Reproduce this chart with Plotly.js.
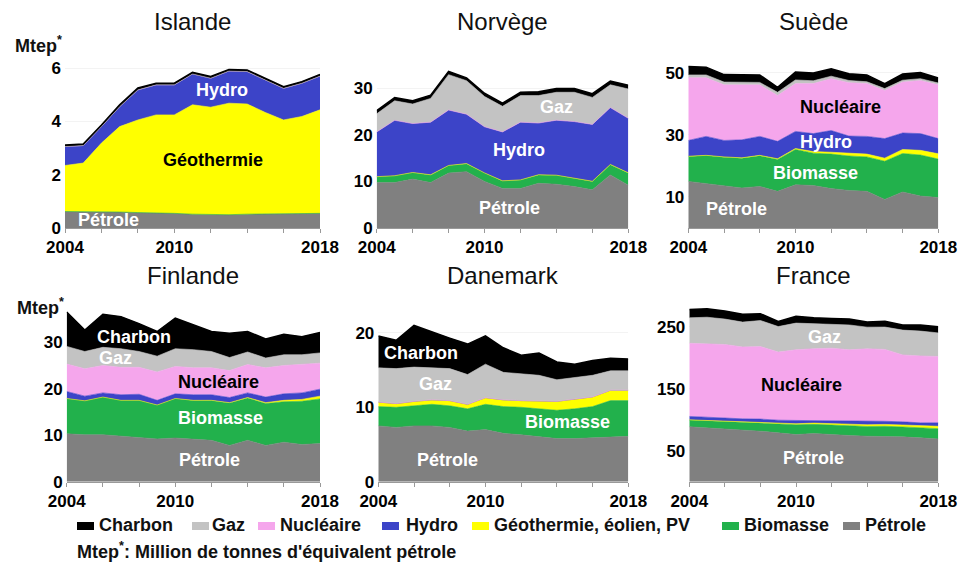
<!DOCTYPE html>
<html>
<head>
<meta charset="utf-8">
<script src="https://cdn.plot.ly/plotly-3.0.1.min.js"></script>
<style>
  html, body { margin: 0; padding: 0; background: #fff; }
  #chart { width: 964px; height: 567px; }
</style>
</head>
<body>
<div id="chart"></div>
<script>
// energy mix, Mtep, 2004-2018
const years = [2004, 2005, 2006, 2007, 2008, 2009, 2010, 2011, 2012, 2013, 2014, 2015, 2016, 2017, 2018];

// stacking order, bottom to top
const seriesKeys = ['petrole', 'biomasse', 'geo', 'hydro', 'nucleaire', 'gaz', 'charbon'];
const seriesNames = ['Pétrole', 'Biomasse', 'Géothermie, éolien, PV', 'Hydro', 'Nucléaire', 'Gaz', 'Charbon'];
const seriesColors = ['#808080', '#22b14c', '#ffff00', '#3c44c8', '#f5a6ec', '#c3c3c3', '#000000'];

const islande = {
  petrole:   [0.62, 0.62, 0.62, 0.60, 0.58, 0.57, 0.55, 0.52, 0.50, 0.50, 0.52, 0.53, 0.55, 0.55, 0.55],
  biomasse:  [0, 0, 0, 0, 0, 0, 0, 0, 0, 0, 0, 0, 0, 0, 0],
  geo:       [1.73, 1.82, 2.57, 3.21, 3.48, 3.68, 3.70, 4.11, 4.04, 4.19, 4.14, 3.81, 3.51, 3.64, 3.89],
  hydro:     [0.71, 0.66, 0.62, 0.75, 1.13, 1.13, 1.13, 1.16, 1.09, 1.21, 1.22, 1.22, 1.19, 1.25, 1.27],
  nucleaire: [0, 0, 0, 0, 0, 0, 0, 0, 0, 0, 0, 0, 0, 0, 0],
  gaz:       [0, 0, 0, 0, 0, 0, 0, 0, 0, 0, 0, 0, 0, 0, 0],
  charbon:   [0.06, 0.06, 0.06, 0.07, 0.07, 0.06, 0.06, 0.06, 0.06, 0.06, 0.06, 0.06, 0.06, 0.06, 0.06]
};

const norvege = {
  petrole:   [9.75, 9.75, 10.5, 9.75, 11.8, 12.1, 10.0, 8.5, 8.5, 9.6, 9.4, 8.9, 8.2, 11.4, 9.2],
  biomasse:  [1.25, 1.45, 1.4, 1.65, 1.6, 1.7, 1.8, 1.6, 1.8, 1.8, 1.9, 1.8, 1.8, 2.2, 2.6],
  geo:       [0.02, 0.02, 0.02, 0.02, 0.03, 0.03, 0.03, 0.03, 0.03, 0.03, 0.04, 0.04, 0.04, 0.05, 0.05],
  hydro:     [9.6, 11.9, 10.5, 11.3, 11.9, 10.6, 9.9, 10.5, 12.4, 11.1, 11.8, 12.1, 12.2, 12.2, 11.7],
  nucleaire: [0, 0, 0, 0, 0, 0, 0, 0, 0, 0, 0, 0, 0, 0, 0],
  gaz:       [3.9, 4.2, 4.2, 5.1, 7.6, 7.2, 6.5, 5.5, 5.7, 5.9, 6.0, 6.3, 5.8, 4.9, 6.3],
  charbon:   [0.7, 0.7, 0.7, 0.7, 0.7, 0.6, 0.7, 0.7, 0.7, 0.8, 0.8, 0.8, 0.8, 0.8, 0.8]
};

const suede = {
  petrole:   [15.0, 14.3, 13.5, 12.9, 13.4, 11.8, 13.9, 13.7, 12.7, 12.1, 11.8, 9.2, 11.6, 10.3, 9.8],
  biomasse:  [8.05, 9.05, 9.3, 9.6, 9.85, 10.3, 11.4, 10.4, 11.1, 11.1, 11.1, 12.3, 12.4, 13.2, 12.4],
  geo:       [0.05, 0.05, 0.1, 0.1, 0.15, 0.2, 0.3, 0.5, 0.6, 0.8, 0.9, 1.0, 1.3, 1.5, 1.7],
  hydro:     [5.1, 6.1, 5.3, 5.8, 6.1, 5.6, 5.5, 5.8, 7.0, 5.6, 5.7, 6.3, 5.3, 5.4, 4.9],
  nucleaire: [20.2, 18.9, 17.9, 17.7, 16.6, 14.8, 15.4, 16.1, 16.7, 17.2, 17.0, 15.5, 16.4, 17.1, 17.3],
  gaz:       [0.9, 0.9, 0.9, 0.8, 0.8, 1.0, 1.2, 0.9, 0.8, 0.7, 0.6, 0.6, 0.6, 0.6, 0.6],
  charbon:   [2.7, 2.5, 2.4, 2.4, 2.4, 1.6, 2.5, 2.5, 2.4, 2.2, 2.2, 1.6, 2.0, 2.0, 1.6]
};

const finlande = {
  petrole:   [10.3, 10.1, 10.1, 9.8, 9.6, 9.2, 9.4, 9.2, 8.9, 7.8, 8.9, 7.8, 8.5, 8.0, 8.2],
  biomasse:  [7.6, 7.3, 8.1, 7.7, 7.9, 7.3, 8.5, 8.25, 8.55, 9.1, 9.1, 9.0, 8.7, 9.3, 9.6],
  geo:       [0, 0, 0, 0, 0, 0, 0, 0.05, 0.05, 0.1, 0.1, 0.2, 0.3, 0.4, 0.6],
  hydro:     [1.5, 1.0, 0.9, 1.2, 1.3, 1.0, 1.0, 1.2, 1.2, 1.1, 1.0, 1.2, 1.4, 1.4, 1.5],
  nucleaire: [5.9, 5.9, 5.9, 5.9, 5.8, 6.1, 5.9, 5.8, 5.8, 5.8, 6.1, 6.3, 6.1, 6.2, 5.6],
  gaz:       [3.8, 3.7, 3.9, 4.0, 3.4, 3.4, 3.8, 3.9, 3.5, 2.8, 2.7, 2.1, 2.3, 2.0, 2.2],
  charbon:   [7.4, 4.6, 7.1, 6.9, 6.0, 5.3, 6.6, 5.3, 4.3, 5.2, 4.4, 4.1, 4.4, 3.9, 4.4]
};

const danemark = {
  petrole:   [7.5, 7.3, 7.5, 7.5, 7.3, 6.8, 7.0, 6.5, 6.3, 6.1, 5.8, 5.8, 5.9, 6.1, 6.1],
  biomasse:  [2.6, 2.7, 2.7, 2.9, 2.9, 3.0, 3.4, 3.6, 3.7, 3.7, 3.8, 4.0, 4.2, 4.8, 4.8],
  geo:       [0.6, 0.5, 0.6, 0.6, 0.7, 0.6, 0.9, 0.9, 0.9, 1.0, 1.2, 1.3, 1.3, 1.4, 1.4],
  hydro:     [0, 0, 0, 0, 0, 0, 0, 0, 0, 0, 0, 0, 0, 0, 0],
  nucleaire: [0, 0, 0, 0, 0, 0, 0, 0, 0, 0, 0, 0, 0, 0, 0],
  gaz:       [4.6, 4.7, 4.6, 4.3, 4.3, 4.0, 4.5, 3.7, 3.6, 3.5, 2.9, 2.9, 2.9, 2.6, 2.6],
  charbon:   [4.3, 3.8, 5.6, 4.8, 4.1, 4.1, 3.8, 3.3, 2.5, 3.0, 2.4, 1.8, 2.0, 1.7, 1.6]
};

const france = {
  petrole:   [88.6, 87.0, 85.3, 83.2, 81.5, 78.8, 76.1, 77.7, 75.5, 74.5, 73.4, 73.4, 72.3, 70.7, 69.0],
  biomasse:  [10.9, 11.4, 12.0, 12.5, 13.1, 14.2, 15.8, 14.8, 15.3, 15.8, 15.7, 16.0, 16.0, 16.5, 16.6],
  geo:       [0.3, 0.4, 0.5, 0.7, 0.9, 1.2, 1.6, 2.0, 2.3, 2.5, 2.7, 3.0, 3.2, 3.5, 3.8],
  hydro:     [5.5, 5.0, 5.5, 5.0, 5.5, 5.0, 5.3, 4.0, 5.3, 6.0, 5.5, 5.0, 5.0, 4.2, 5.6],
  nucleaire: [118, 118, 118, 116, 117, 110, 114, 116, 117, 114, 117, 116, 108, 108, 107],
  gaz:       [41, 43.5, 41, 40, 42, 41, 43, 40, 38, 40, 35, 36, 40, 40, 38],
  charbon:   [13.6, 13.6, 13, 12.5, 11, 8.2, 11, 9.8, 9.8, 9.8, 8.1, 9.2, 8.1, 9.8, 9.8]
};

const FONT = 'Liberation Sans, Arial, sans-serif';

const panels = [
  { name: 'Islande',  data: islande,  ax: '',  range: [0, 7],   ticks: [0, 2, 4, 6],      dom: [65, 320, 41.7, 228] },
  { name: 'Norvège',  data: norvege,  ax: '2', range: [0, 40],  ticks: [0, 10, 20, 30],   dom: [376.7, 628.3, 41.7, 228] },
  { name: 'Suède',    data: suede,    ax: '3', range: [0, 60],  ticks: [10, 30, 50],      dom: [688.3, 938.3, 41.7, 228] },
  { name: 'Finlande', data: finlande, ax: '4', range: [0, 40],  ticks: [0, 10, 20, 30],   dom: [66.7, 320, 295.7, 481.7] },
  { name: 'Danemark', data: danemark, ax: '5', range: [0, 25],  ticks: [0, 10, 20],       dom: [378.3, 628.3, 295.7, 481.7] },
  { name: 'France',   data: france,   ax: '6', range: [0, 300], ticks: [50, 150, 250],    dom: [689.3, 938.3, 295.7, 481.7] }
];

// labels written inside the areas: [panel, text, x, y, colour]
const areaLabels = [
  [0, 'Hydro', 2012.6, 5.2, '#fff'],
  [0, 'Géothermie', 2012.1, 2.55, '#000'],
  [0, 'Pétrole', 2006.4, 0.3, '#fff'],
  [1, 'Gaz', 2014.0, 25.9, '#fff'],
  [1, 'Hydro', 2011.9, 16.7, '#fff'],
  [1, 'Pétrole', 2011.4, 4.2, '#fff'],
  [2, 'Nucléaire', 2012.5, 38.9, '#000'],
  [2, 'Hydro', 2011.7, 27.7, '#fff'],
  [2, 'Biomasse', 2011.1, 17.8, '#fff'],
  [2, 'Pétrole', 2006.7, 6.0, '#fff'],
  [3, 'Charbon', 2007.7, 31.2, '#fff'],
  [3, 'Gaz', 2006.7, 26.6, '#fff'],
  [3, 'Nucléaire', 2012.4, 21.5, '#000'],
  [3, 'Biomasse', 2012.5, 13.7, '#fff'],
  [3, 'Pétrole', 2011.9, 4.6, '#fff'],
  [4, 'Charbon', 2006.4, 17.3, '#fff'],
  [4, 'Gaz', 2007.2, 13.1, '#fff'],
  [4, 'Biomasse', 2014.6, 8.0, '#fff'],
  [4, 'Pétrole', 2007.9, 2.9, '#fff'],
  [5, 'Gaz', 2011.6, 234, '#fff'],
  [5, 'Nucléaire', 2010.3, 156, '#000'],
  [5, 'Pétrole', 2011.0, 38, '#fff']
];

// legend row: left edge of swatch and of text, in px (Charbon first)
const legendSwatchX = [77, 192, 258, 382, 472, 722, 843];
const legendTextX = [97, 210, 278, 404, 492, 742, 863];

const W = 964, H = 567;
const traces = [];
const layout = {
  width: W, height: H,
  margin: { l: 0, r: 0, t: 0, b: 0 },
  paper_bgcolor: '#fff',
  plot_bgcolor: '#fff',
  font: { family: FONT, color: '#000' },
  showlegend: false,
  annotations: [],
  shapes: []
};

panels.forEach((p, pi) => {
  const xa = 'x' + p.ax, ya = 'y' + p.ax;
  seriesKeys.forEach((k, si) => {
    traces.push({
      x: years, y: p.data[k],
      type: 'scatter', mode: 'lines',
      stackgroup: 'g' + pi,
      fillcolor: seriesColors[si],
      line: { color: seriesColors[si], width: k === 'charbon' ? 1.5 : 0.6 },
      xaxis: xa, yaxis: ya,
      hoverinfo: 'skip'
    });
  });

  const [x0, x1, yTop, yBot] = p.dom;
  layout['xaxis' + p.ax] = {
    domain: [x0 / W, x1 / W], anchor: ya,
    range: [2004, 2018],
    tickvals: [2004, 2010, 2018],
    ticks: 'outside', ticklen: 4, tickcolor: '#999',
    minor: { tickvals: [2006, 2008, 2012, 2014, 2016], ticks: 'outside', ticklen: 4, tickcolor: '#999' },
    showgrid: false, zeroline: false,
    showline: true, linecolor: '#999', linewidth: 1,
    tickfont: { family: FONT, size: 17, weight: 700 }
  };
  layout['yaxis' + p.ax] = {
    domain: [1 - yBot / H, 1 - yTop / H], anchor: xa,
    range: p.range, tickvals: p.ticks,
    showgrid: true, gridcolor: '#f3f3f3', zeroline: false,
    showline: false, ticks: '', ticklabelstandoff: 3,
    tickfont: { family: FONT, size: 17, weight: 700 }
  };

  layout.annotations.push({
    xref: 'paper', yref: 'paper',
    x: (x0 + x1) / 2 / W, y: 1 - (yTop - 20) / H,
    text: p.name, showarrow: false, xanchor: 'center', yanchor: 'middle',
    font: { family: FONT, size: 24, color: '#111' }
  });
});

// Mtep* unit labels
[[13, 44], [15, 306]].forEach(([px, py]) => {
  layout.annotations.push({
    xref: 'paper', yref: 'paper', x: px / W, y: 1 - py / H,
    text: 'Mtep<sup>*</sup>', showarrow: false, xanchor: 'left', yanchor: 'middle',
    font: { family: FONT, size: 18, weight: 700, color: '#111' }
  });
});

areaLabels.forEach(([pi, txt, x, y, col]) => {
  const ax = panels[pi].ax;
  layout.annotations.push({
    xref: 'x' + ax, yref: 'y' + ax, x: x, y: y,
    text: txt, showarrow: false,
    font: { family: FONT, size: 18, weight: 700, color: col }
  });
});

// legend, Charbon first
for (let i = 0; i < seriesKeys.length; i++) {
  const si = seriesKeys.length - 1 - i;
  layout.shapes.push({
    type: 'rect', xref: 'paper', yref: 'paper',
    x0: legendSwatchX[i] / W, x1: (legendSwatchX[i] + 17) / W,
    y0: 1 - 530 / H, y1: 1 - 522 / H,
    fillcolor: seriesColors[si], line: { width: 0 }
  });
  layout.annotations.push({
    xref: 'paper', yref: 'paper', x: legendTextX[i] / W, y: 1 - 525 / H,
    xanchor: 'left', yanchor: 'middle', showarrow: false,
    text: seriesNames[si],
    font: { family: FONT, size: 18, weight: 700, color: '#111' }
  });
}

// footnote
layout.annotations.push({
  xref: 'paper', yref: 'paper', x: 75 / W, y: 1 - 550 / H,
  xanchor: 'left', yanchor: 'middle', showarrow: false,
  text: 'Mtep<sup>*</sup>: Million de tonnes d\'équivalent pétrole',
  font: { family: FONT, size: 18, weight: 700, color: '#111' }
});

Plotly.newPlot('chart', traces, layout, { displayModeBar: false, staticPlot: true });
</script>
</body>
</html>
